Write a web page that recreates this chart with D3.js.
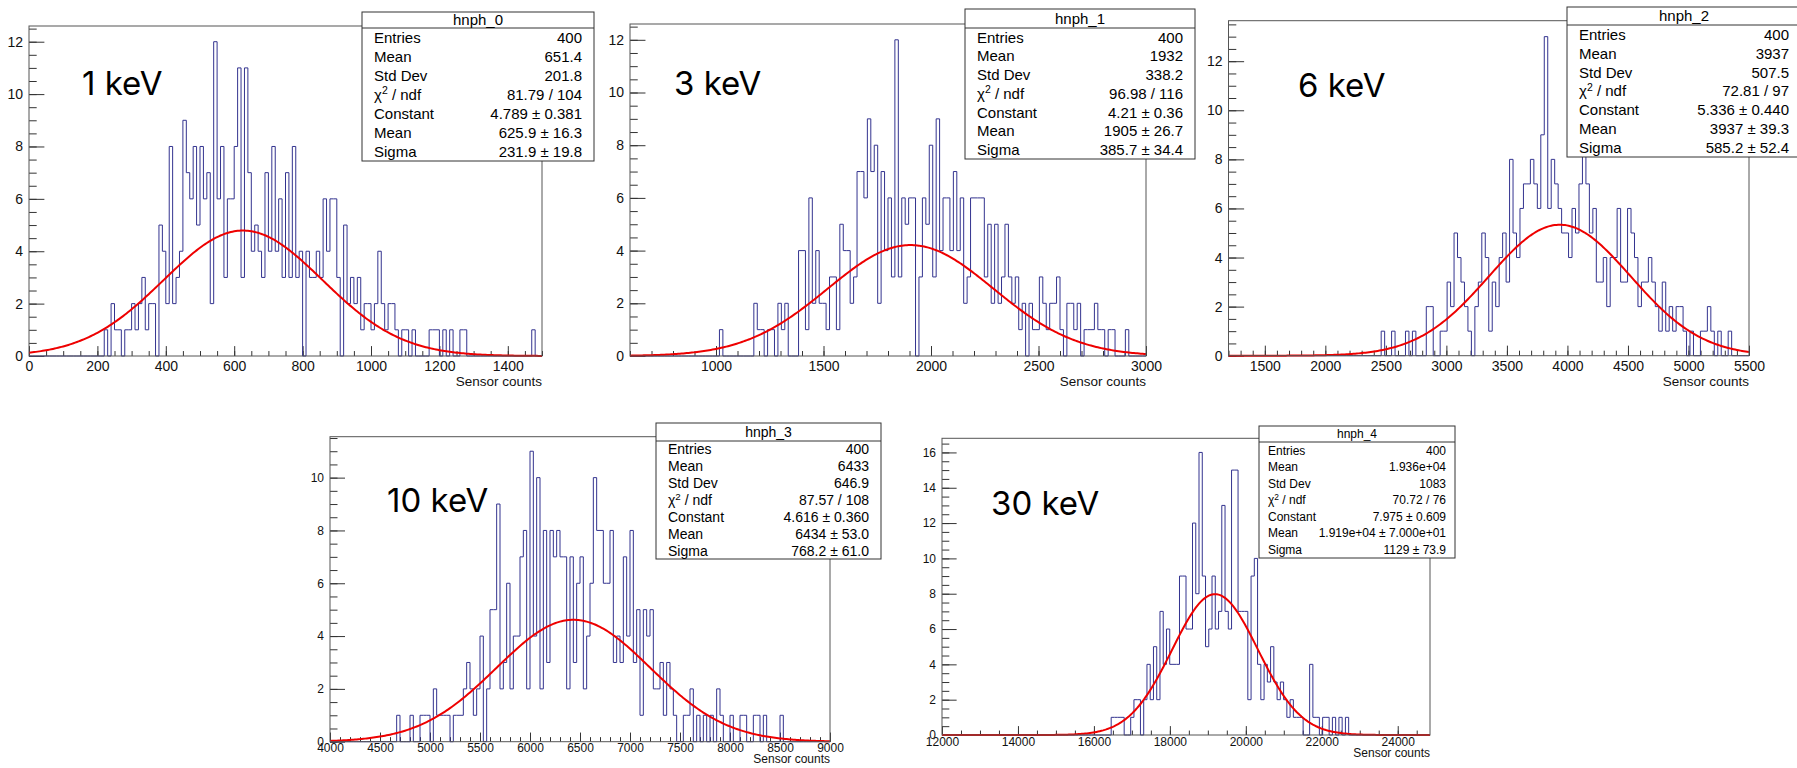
<!DOCTYPE html>
<html lang="en">
<head>
<meta charset="UTF-8" />
<title>Sensor counts per energy</title>
<script src="https://d3js.org/d3.v7.min.js"></script>
<style>
  body { margin: 0; background: #fff; }
  svg { display: block; font-family: "Liberation Sans", Arial, sans-serif; }
  .kev { font-family: Inter, "Noto Sans", sans-serif; font-weight: 400; }
</style>
</head>
<body>
<script>
// ---- data ----
const energyLabels = ['1 keV', '3 keV', '6 keV', '10 keV', '30 keV'];
const histNames = ['hnph_0', 'hnph_1', 'hnph_2', 'hnph_3', 'hnph_4'];
const xMin = [0, 600, 1200, 4000, 12000];
const xMax = [1500, 3000, 5500, 9000, 24850];

// 150 bins each
const counts0 = [
  0,0,0,0,0,0,0,0,0,0, 0,0,0,0,0,0,0,0,0,0, 0,0,1,0,2,1,1,0,1,1,
  2,1,2,3,1,2,2,0,5,4, 2,8,2,3,4,9,7,6,8,5, 8,6,7,2,12,6,8,3,6,6,
  8,11,3,11,7,4,5,4,3,7, 4,8,4,6,3,7,3,8,3,4, 0,4,3,3,4,3,6,4,6,6,
  3,0,5,2,3,2,3,1,2,2, 1,2,4,2,1,2,2,1,0,1, 1,0,1,0,0,0,0,1,1,1,
  0,1,0,1,0,0,1,1,0,0, 0,0,0,0,0,0,0,0,0,0, 0,0,0,0,0,0,0,1,0,0];
const counts1 = [
  0,0,0,0,0,0,0,0,0,0, 0,0,0,0,0,0,0,0,0,0, 0,0,0,0,0,0,1,0,0,0,
  0,0,0,0,0,0,2,1,1,0, 1,1,0,2,1,2,0,0,0,4, 4,1,6,2,4,2,2,1,3,3,
  1,5,4,4,2,3,7,7,6,9, 7,8,2,7,4,6,3,12,3,6, 5,6,6,0,3,6,5,8,3,9,
  4,6,6,4,7,4,6,2,3,6, 6,6,6,3,5,2,5,2,3,5, 3,2,3,1,2,0,2,1,1,3,
  2,1,2,2,3,1,0,2,2,1, 2,0,1,1,1,2,1,1,0,1, 1,0,0,0,1,0,0,0,0,0];
const counts2 = [
  0,0,0,0,0,0,0,0,0,0, 0,0,0,0,0,0,0,0,0,0, 0,0,0,0,0,0,0,0,0,0,
  0,0,0,0,0,0,0,0,0,0, 0,0,0,0,1,0,0,1,0,0, 0,1,0,1,0,0,0,2,2,0,
  0,1,1,3,2,5,4,3,2,1, 0,2,3,5,4,1,3,2,4,5, 3,8,5,4,6,7,7,8,7,6,
  9,13,6,8,7,6,5,5,4,6, 5,7,10,7,5,6,3,3,4,2, 4,4,6,3,3,6,5,4,2,3,
  3,4,3,2,1,3,1,2,1,2, 2,1,0,1,0,0,1,1,2,1, 0,1,0,0,1,0,0,0,0,0];
const counts3 = [
  0,0,0,0,0,0,0,0,0,0, 0,0,0,0,0,0,0,0,0,0, 1,0,0,0,1,0,0,1,1,1,
  0,2,1,1,1,1,0,1,1,1, 2,3,2,1,2,4,0,2,5,5, 9,2,3,6,2,4,4,7,8,2,
  11,4,10,2,8,3,8,7,8,7, 7,2,7,3,6,7,2,4,6,10, 8,8,6,6,8,3,4,3,7,4,
  8,3,5,1,5,4,5,2,2,3, 1,3,2,1,0,0,1,1,2,0, 1,0,1,0,1,0,2,1,0,0,
  1,0,0,1,1,0,0,1,1,0, 1,0,0,0,0,1,0,0,0,0, 0,0,0,0,0,0,0,0,0,0];
const counts4 = [
  0,0,0,0,0,0,0,0,0,0, 0,0,0,0,0,0,0,0,0,0, 0,0,0,0,0,0,0,0,0,0,
  0,0,0,0,0,0,0,0,0,0, 0,0,0,0,0,0,0,0,0,0, 0,0,1,1,1,1,0,0,1,2,
  2,0,2,4,2,5,2,7,4,6, 4,4,4,9,9,6,6,12,8,16, 9,5,6,9,6,7,13,7,6,15,
  15,7,7,7,2,9,10,4,2,4, 3,5,3,2,3,2,1,2,1,1, 1,0,0,4,1,1,0,1,1,0,
  1,0,1,0,1,0,0,0,0,0, 0,0,0,0,0,0,0,0,0,0, 0,0,0,0,0,0,0,0,0,0];
const allCounts = [counts0, counts1, counts2, counts3, counts4];

// fit parameters (gaus)
const fitConstant = [4.789, 4.21, 5.336, 4.616, 7.975];
const fitMean = [625.9, 1905, 3937, 6434, 19190];
const fitSigma = [231.9, 385.7, 585.2, 768.2, 1129];

// stat box texts
const statEntries = ['400', '400', '400', '400', '400'];
const statMean = ['651.4', '1932', '3937', '6433', '1.936e+04'];
const statStdDev = ['201.8', '338.2', '507.5', '646.9', '1083'];
const statChi2 = ['81.79 / 104', '96.98 / 116', '72.81 / 97', '87.57 / 108', '70.72 / 76'];
const statConstant = ['4.789 \u00b1 0.381', '4.21 \u00b1 0.36', '5.336 \u00b1 0.440', '4.616 \u00b1 0.360', '7.975 \u00b1 0.609'];
const statFitMean = ['625.9 \u00b1 16.3', '1905 \u00b1 26.7', '3937 \u00b1 39.3', '6434 \u00b1 53.0', '1.919e+04 \u00b1 7.000e+01'];
const statSigma = ['231.9 \u00b1 19.8', '385.7 \u00b1 34.4', '585.2 \u00b1 52.4', '768.2 \u00b1 61.0', '1129 \u00b1 73.9'];

// axis tick labels
const xTickLabels = [
  [0, 200, 400, 600, 800, 1000, 1200, 1400],
  [1000, 1500, 2000, 2500, 3000],
  [1500, 2000, 2500, 3000, 3500, 4000, 4500, 5000, 5500],
  [4000, 4500, 5000, 5500, 6000, 6500, 7000, 7500, 8000, 8500, 9000],
  [12000, 14000, 16000, 18000, 20000, 22000, 24000]];
const yTickLabels = [
  [0, 2, 4, 6, 8, 10, 12],
  [0, 2, 4, 6, 8, 10, 12],
  [0, 2, 4, 6, 8, 10, 12],
  [0, 2, 4, 6, 8, 10],
  [0, 2, 4, 6, 8, 10, 12, 14, 16]];
const xAxisTitle = 'Sensor counts';

// ---- layout (pixels) ----
const layout = [
  { x0: 29, x1: 542, y0: 26, y1: 356, minor: 50, fs: 14, tfs: 13.5, ty: 30, lab: [82, 95],
    box: { x: 362, y: 12, w: 232, h: 149, head: 16, fs: 15, pad: 12 } },
  { x0: 630, x1: 1146, y0: 24, y1: 356, minor: 100, fs: 14, tfs: 13.5, ty: 30, lab: [674, 95],
    box: { x: 965, y: 9, w: 230, h: 150, head: 19, fs: 15, pad: 12 } },
  { x0: 1228.5, x1: 1749, y0: 20.7, y1: 355.7, minor: 100, fs: 14, tfs: 13.5, ty: 30, lab: [1298, 97],
    box: { x: 1567, y: 7, w: 234, h: 150, head: 18, fs: 15, pad: 12 } },
  { x0: 330, x1: 830, y0: 436.7, y1: 741.7, minor: 100, fs: 12, tfs: 12, ty: 21, lab: [387, 512],
    box: { x: 656, y: 423, w: 225, h: 136, head: 18, fs: 14, pad: 12 } },
  { x0: 942, x1: 1430, y0: 438.3, y1: 735, minor: 500, fs: 12, tfs: 12, ty: 22, lab: [991, 515],
    box: { x: 1259, y: 426, w: 196, h: 132, head: 16, fs: 12, pad: 9 } }
];

const svg = d3.select('body').append('svg')
  .attr('width', 1797)
  .attr('height', 768)
  .style('background', '#fff');

layout.forEach((L, p) => {
  const counts = allCounts[p];
  const nb = counts.length;
  const bw = (xMax[p] - xMin[p]) / nb;
  const yTop = d3.max(counts) * 1.05;

  const x = d3.scaleLinear().domain([xMin[p], xMax[p]]).range([L.x0, L.x1]);
  const y = d3.scaleLinear().domain([0, yTop]).range([L.y1, L.y0]);
  const g = svg.append('g');

  const xLen = (L.y1 - L.y0) * 0.03;
  const yLen = (L.x1 - L.x0) * 0.03;

  // minor ticks
  const xMinorVals = d3.range(Math.ceil(xMin[p] / L.minor) * L.minor, xMax[p] + 1, L.minor);
  g.append('g')
    .attr('transform', `translate(0,${L.y1})`)
    .call(d3.axisBottom(x).tickValues(xMinorVals).tickSize(-xLen / 2).tickFormat(''))
    .call(a => a.select('.domain').remove());
  g.append('g')
    .attr('transform', `translate(${L.x0},0)`)
    .call(d3.axisLeft(y).tickValues(d3.range(0, yTop, 0.5)).tickSize(-yLen / 2).tickFormat(''))
    .call(a => a.select('.domain').remove());

  // major ticks with labels
  const xa = g.append('g')
    .attr('transform', `translate(0,${L.y1})`)
    .call(d3.axisBottom(x).tickValues(xTickLabels[p]).tickSize(-xLen).tickPadding(p < 3 ? 5 : 2).tickFormat(d3.format('d')));
  xa.select('.domain').remove();
  xa.selectAll('text').style('font-size', L.fs + 'px').attr('fill', '#111')
    .attr('font-family', '"Liberation Sans", Arial, sans-serif');

  const ya = g.append('g')
    .attr('transform', `translate(${L.x0},0)`)
    .call(d3.axisLeft(y).tickValues(yTickLabels[p]).tickSize(-yLen).tickPadding(6).tickFormat(d3.format('d')));
  ya.select('.domain').remove();
  ya.selectAll('text').style('font-size', L.fs + 'px').attr('fill', '#111')
    .attr('font-family', '"Liberation Sans", Arial, sans-serif');
  g.selectAll('.tick line').attr('stroke', '#333');

  // axis title
  g.append('text')
    .attr('x', L.x1)
    .attr('y', L.y1 + L.ty)
    .attr('text-anchor', 'end')
    .style('font-size', L.tfs + 'px')
    .attr('fill', '#111')
    .text(xAxisTitle);

  // histogram outline
  const pts = counts.map((c, i) => [xMin[p] + i * bw, c]);
  pts.push([xMax[p], counts[nb - 1]]);
  const step = d3.line()
    .x(d => x(d[0]))
    .y(d => y(d[1]))
    .curve(d3.curveStepAfter);
  g.append('path')
    .attr('d', step(pts))
    .attr('fill', 'none')
    .attr('stroke', '#33338f')
    .attr('stroke-width', 1);

  // gaussian fit
  const gaus = v => fitConstant[p] * Math.exp(-0.5 * Math.pow((v - fitMean[p]) / fitSigma[p], 2));
  const fx = d3.range(0, 301).map(i => xMin[p] + (xMax[p] - xMin[p]) * i / 300);
  g.append('path')
    .attr('d', d3.line().x(v => x(v)).y(v => y(gaus(v)))(fx))
    .attr('fill', 'none')
    .attr('stroke', '#ee0000')
    .attr('stroke-width', 2);

  // frame
  g.append('rect')
    .attr('x', L.x0).attr('y', L.y0)
    .attr('width', L.x1 - L.x0).attr('height', L.y1 - L.y0)
    .attr('fill', 'none')
    .attr('stroke', '#555')
    .attr('stroke-width', 1);

  // energy label
  g.append('text')
    .attr('class', 'kev')
    .attr('x', L.lab[0]).attr('y', L.lab[1])
    .style('font-size', '33px')
    .attr('fill', '#000')
    .text(energyLabels[p]);

  // stat box
  const B = L.box;
  const sb = svg.append('g');
  sb.append('rect')
    .attr('x', B.x).attr('y', B.y).attr('width', B.w).attr('height', B.h)
    .attr('fill', '#fff').attr('stroke', '#333').attr('stroke-width', 1);
  sb.append('line')
    .attr('x1', B.x).attr('x2', B.x + B.w)
    .attr('y1', B.y + B.head).attr('y2', B.y + B.head)
    .attr('stroke', '#333');
  sb.append('text')
    .attr('x', B.x + B.w / 2)
    .attr('y', B.y + B.head / 2 + B.fs * 0.36)
    .attr('text-anchor', 'middle')
    .style('font-size', B.fs + 'px')
    .text(histNames[p]);

  const rowNames = ['Entries', 'Mean', 'Std Dev', 'chi', 'Constant', 'Mean', 'Sigma'];
  const rowVals = [statEntries[p], statMean[p], statStdDev[p], statChi2[p], statConstant[p], statFitMean[p], statSigma[p]];
  const rowH = (B.h - B.head) / rowNames.length;
  rowNames.forEach((nm, r) => {
    const ty = B.y + B.head + rowH * (r + 0.5) + B.fs * 0.36;
    const t = sb.append('text')
      .attr('x', B.x + B.pad).attr('y', ty)
      .style('font-size', B.fs + 'px');
    if (nm === 'chi') {
      t.append('tspan').text('\u03c7');
      t.append('tspan').attr('dy', -B.fs * 0.38).style('font-size', (B.fs * 0.7) + 'px').text('2');
      t.append('tspan').attr('dy', B.fs * 0.38).text(' / ndf');
    } else {
      t.text(nm);
    }
    sb.append('text')
      .attr('x', B.x + B.w - B.pad).attr('y', ty)
      .attr('text-anchor', 'end')
      .style('font-size', B.fs + 'px')
      .text(rowVals[r]);
  });
});
</script>
</body>
</html>
